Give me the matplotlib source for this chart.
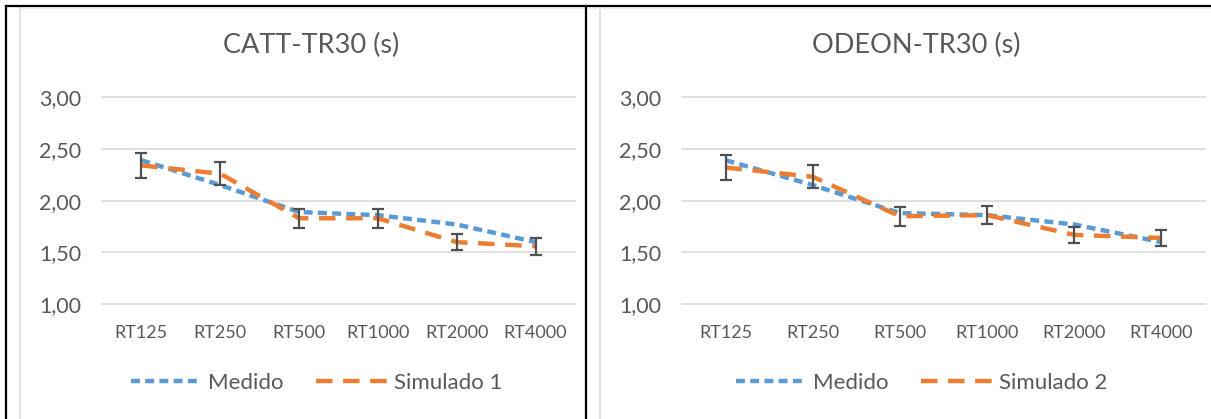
import matplotlib
matplotlib.use("Agg")
import matplotlib.pyplot as plt
from matplotlib.lines import Line2D

categories = ["RT125", "RT250", "RT500", "RT1000", "RT2000", "RT4000"]

catt_medido = [2.39, 2.15, 1.89, 1.86, 1.77, 1.60]
catt_sim1 = [2.34, 2.26, 1.83, 1.83, 1.60, 1.56]
catt_err = [0.12, 0.11, 0.09, 0.09, 0.08, 0.08]

odeon_medido = [2.39, 2.15, 1.88, 1.86, 1.77, 1.60]
odeon_sim2 = [2.32, 2.23, 1.85, 1.86, 1.67, 1.64]
odeon_err = [0.12, 0.11, 0.09, 0.09, 0.08, 0.08]

yticks = [1.0, 1.5, 2.0, 2.5, 3.0]
ytick_labels = ["1,00", "1,50", "2,00", "2,50", "3,00"]

BLUE = "#5B9BD5"
ORANGE = "#ED7D31"
TEXT = "#595959"
GRID = "#D9D9D9"
FONT = "Lato"

W, H = 1211, 419
fig = plt.figure(figsize=(W / 100, H / 100), dpi=100)
fig.patch.set_facecolor("white")


def fx(px):
    return px / W


def fy(py):
    return 1 - py / H


LW = 3.2
BLUE_DASH = (2.0, 1.2)
ORANGE_DASH = (3.7, 2.4)


def make_panel(left_px, right_px, title, title_x, medido, sim, err, sim_label, legend_cx):
    ax = fig.add_axes([fx(left_px), fy(304.3), fx(right_px - left_px), (304.3 - 97) / H])
    x = list(range(len(categories)))
    ax.plot(x, medido, color=BLUE, lw=LW, dashes=BLUE_DASH, dash_capstyle="butt",
            label="Medido", zorder=3)
    ax.plot(x, sim, color=ORANGE, lw=LW, dashes=ORANGE_DASH, dash_capstyle="butt",
            label=sim_label, zorder=4)
    ax.errorbar(x, sim, yerr=err, fmt="none", ecolor="#505050", elinewidth=1.6,
                capsize=4.3, capthick=1.6, zorder=5)
    ax.set_xlim(-0.5, len(categories) - 0.5)
    ax.set_ylim(1.0, 3.0)
    ax.set_yticks(yticks)
    ax.set_yticklabels(ytick_labels)
    ax.set_xticks(x)
    ax.set_xticklabels(categories)
    for s in ax.spines.values():
        s.set_visible(False)
    ax.tick_params(axis="y", length=0, pad=15, labelsize=15.5, labelcolor=TEXT)
    ax.tick_params(axis="x", length=0, pad=15, labelsize=13, labelcolor=TEXT)
    for lab in ax.get_xticklabels() + ax.get_yticklabels():
        lab.set_fontfamily(FONT)
    ax.grid(axis="y", color=GRID, lw=1.2, zorder=0)
    ax.grid(axis="x", visible=False)
    for gl in ax.get_ygridlines():
        gl.set_clip_on(False)
    ax.set_axisbelow(True)
    fig.text(fx(title_x), fy(45), title, ha="center", va="center",
             fontsize=19.5, color=TEXT, family=FONT)
    h1 = Line2D([], [], color=BLUE, lw=LW, dashes=BLUE_DASH)
    h2 = Line2D([], [], color=ORANGE, lw=LW, dashes=ORANGE_DASH)
    fig.legend([h1, h2], ["Medido", sim_label], loc="center",
               bbox_to_anchor=(fx(legend_cx), fy(383)), ncol=2, frameon=False,
               handlelength=3.2, handletextpad=0.3, columnspacing=1.45,
               prop={"family": FONT, "size": 16}, labelcolor=TEXT)
    return ax


make_panel(102, 575, "CATT-TR30 (s)", 311, catt_medido, catt_sim1, catt_err,
           "Simulado 1", 316.5)
make_panel(682, 1205, "ODEON-TR30 (s)", 916, odeon_medido, odeon_sim2, odeon_err,
           "Simulado 2", 921.5)

# chart area borders (light gray)
for xp in (20, 600):
    fig.add_artist(Line2D([fx(xp), fx(xp)], [fy(8.5), 0], color=GRID, lw=1.2))
fig.add_artist(Line2D([fx(20), 1], [fy(8.5), fy(8.5)], color="#EBEBEB", lw=1.0))

# table borders (black)
fig.add_artist(Line2D([fx(5.5), 1], [fy(6.5), fy(6.5)], color="black", lw=1.6))
fig.add_artist(Line2D([fx(5.5), fx(5.5)], [fy(6.5), 0], color="black", lw=1.6))
fig.add_artist(Line2D([fx(586), fx(586)], [fy(6.5), 0], color="black", lw=1.6))

fig.savefig("out.png", dpi=100)
